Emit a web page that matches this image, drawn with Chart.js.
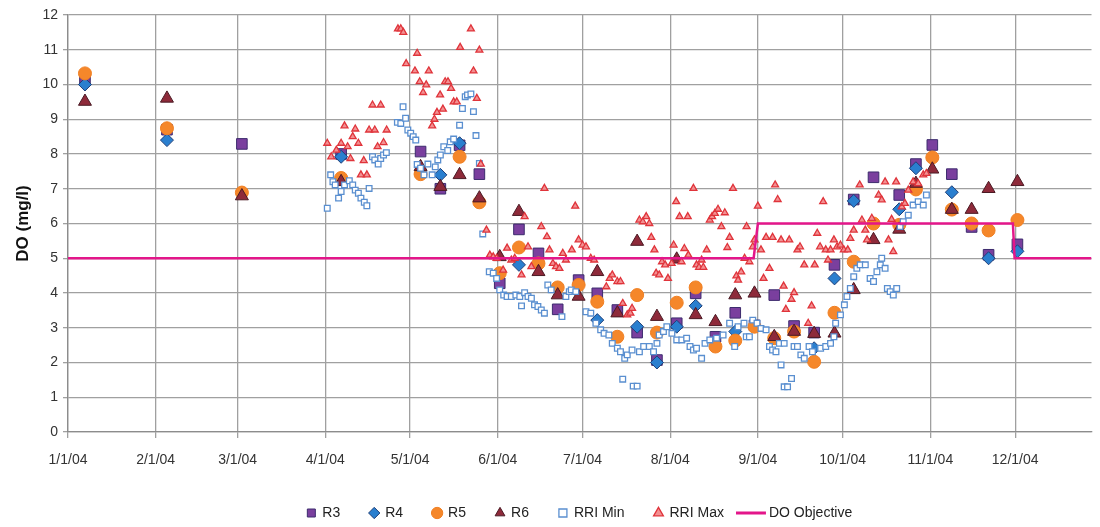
<!DOCTYPE html>
<html lang="en">
<head>
<meta charset="UTF-8" />
<title>DO (mg/l)</title>
<script src="https://cdn.jsdelivr.net/npm/chart.js"></script>
<style>
  body { margin: 0; background: #fff; }
</style>
</head>
<body>
<canvas id="chartDO" width="1100" height="527"></canvas>

<script>
// x values are days counted from 1/1/04
const monthDays = [0, 31, 60, 91, 121, 152, 182, 213, 244, 274, 305, 335];
const monthLabels = ['1/1/04', '2/1/04', '3/1/04', '4/1/04', '5/1/04', '6/1/04',
  '7/1/04', '8/1/04', '9/1/04', '10/1/04', '11/1/04', '12/1/04'];

// grab samples at the stations (null = no reading visible)
const sampleDays = [6, 35, 61.5, 96.6, 124.7, 131.7, 138.5, 145.5, 152.7, 159.5, 166.4, 173.2,
  180.6, 187.2, 194.3, 201.3, 208.3, 215.3, 222, 229, 236, 242.8, 249.8, 256.8, 263.9, 271.1,
  277.9, 284.9, 294, 299.9, 305.7, 312.6, 319.6, 325.6, 335.8];
const r3Values = [10.15, 8.7, 8.29, 8.0, 8.07, 7.0, 8.25, 7.42, 4.28, 5.83, 5.14, 3.53, 4.37, 3.99,
  3.51, 2.86, 2.07, 3.13, 3.99, 2.74, 3.43, 3.07, 3.94, 3.05, 2.86, 4.81, 6.69, 7.33, 6.82, 7.71,
  8.26, 7.42, 5.9, 5.1, 5.4];
const r4Values = [10.0, 8.4, null, 7.92, null, 7.4, 8.31, null, null, 4.81, null, null, null, 3.22,
  null, 3.03, 2.0, 3.03, 3.63, null, 2.89, null, null, null, 2.41, 4.42, 6.65, null, 6.41, 7.59,
  null, 6.9, null, 5.0, 5.2];
const r5Values = [10.32, 8.74, 6.89, 7.31, 7.42, null, 7.92, 6.61, 4.57, 5.31, 4.85, 4.16, 4.23,
  3.75, 2.74, 3.94, 2.86, 3.72, 4.16, 2.46, 2.63, 3.03, 2.7, 2.89, 2.02, 3.43, 4.9, 6.0, 5.96,
  6.98, 7.9, 6.4, 6.0, 5.8, 6.1];
const r6Values = [9.51, 9.6, 6.79, 7.2, 7.63, 7.06, 7.4, 6.73, 5.04, 6.34, 4.61, 3.94, 3.9, 4.61,
  3.42, 5.48, 3.32, 4.97, 3.37, 3.17, 3.94, 3.99, 2.74, 2.89, 2.83, 2.84, 4.09, 5.53, 5.83, 7.15,
  7.56, 6.4, 6.4, 7.0, 7.2];

// continuous recorder, daily minimum
const rriMinDays = [91.7, 92.9, 93.7, 94.5, 95.7, 96.6, 97.8, 99.5, 100.7, 101.6, 102.7, 103.6,
  104.8, 105.7, 106.5, 107.7, 108.5, 109.7, 110.6, 111.6, 112.6, 116.5, 117.7, 118.5, 119.4, 120.2,
  121.2, 122.1, 123, 123.5, 124.7, 125.9, 127.3, 128.8, 129.9, 130.8, 131.7, 132.9, 134.3, 135.2,
  136.4, 138.5, 139.5, 140.5, 141.3, 142.5, 143.4, 144.3, 145.5, 146.7, 149, 150.4, 151.6, 152.7,
  154.1, 155.3, 156.8, 158.4, 159.8, 160.4, 161.5, 162.7, 163.9, 165, 166.2, 167.4, 168.5, 169.7,
  170.9, 174.7, 176.1, 177.3, 178, 179.6, 183.2, 184.9, 186.7, 188.4, 189.6, 191.3, 192.5, 194.3,
  195.4, 196.2, 196.9, 197.8, 199.5, 199.9, 201.3, 202.1, 203.6, 205.6, 207.1, 208.3, 209.1, 210.6,
  211.8, 213.6, 215.3, 217.1, 218.8, 220, 221.2, 222.3, 224.1, 225.3, 227, 229.4, 231.7, 234, 235.8,
  237, 239.1, 239.9, 241, 242.2, 243.7, 245.1, 246.9, 248.1, 249.2, 250.4, 251.6, 252.2, 253.3,
  253.3, 254.5, 255.9, 256.8, 258, 259.2, 260.4, 262.1, 263.3, 266.2, 268, 269.7, 270.9, 271.5,
  273.2, 274.6, 275.5, 276.7, 277.9, 279, 280.2, 282, 283.7, 284.9, 286.1, 287.3, 287.8, 289, 289.8,
  290.8, 291.9, 293.1, 294.3, 295.4, 297.2, 298.9, 300.7, 302.5, 303.6];
const rriMinValues = [6.44, 7.4, 7.2, 7.11, 6.73, 6.92, 7.11, 7.23, 7.11, 6.96, 6.87, 6.73, 6.61,
  6.51, 7.01, 7.92, 7.83, 7.71, 7.87, 7.97, 8.04, 8.91, 8.88, 9.36, 9.03, 8.69, 8.6, 8.5, 8.4, 7.7,
  7.59, 7.4, 7.71, 7.4, 7.63, 7.83, 7.97, 8.21, 8.1, 8.35, 8.43, 8.83, 9.31, 9.65, 9.7, 9.73, 9.22,
  8.53, 7.73, 5.7, 4.61, 4.57, 4.42, 4.09, 3.94, 3.9, 3.9, 3.94, 3.9, 3.63, 4.01, 3.9, 3.85, 3.66,
  3.61, 3.51, 3.42, 4.23, 4.09, 3.32, 3.9, 4.04, 4.09, 4.04, 3.46, 3.42, 3.13, 2.94, 2.84, 2.79,
  2.55, 2.41, 2.31, 1.52, 2.12, 2.22, 2.36, 1.32, 1.32, 2.31, 2.46, 2.46, 2.31, 2.55, 2.79, 2.89,
  3.03, 2.84, 2.65, 2.65, 2.7, 2.46, 2.36, 2.41, 2.12, 2.55, 2.65, 2.7, 2.79, 3.13, 2.46, 3.03,
  3.13, 2.74, 2.74, 3.22, 3.13, 2.98, 2.94, 2.46, 2.36, 2.31, 2.55, 1.93, 1.3, 2.55, 1.3, 1.54,
  2.46, 2.46, 2.22, 2.12, 2.46, 2.31, 2.41, 2.46, 2.55, 2.74, 3.13, 3.37, 3.66, 3.9, 4.13, 4.47,
  4.71, 4.81, 4.81, 4.42, 4.33, 4.61, 4.81, 5.0, 4.71, 4.13, 4.04, 3.94, 4.13, 5.91, 6.05, 6.24,
  6.53, 6.63, 6.53, 6.82];

// continuous recorder, daily maximum
const rriMaxDays = [91.7, 93.1, 94.9, 96.6, 97.8, 98.9, 99.9, 100.7, 101.6, 102.7, 103.6, 104.6,
  105.7, 106.5, 107.7, 108.5, 109.5, 110.6, 111.6, 112.7, 116.7, 117.7, 118.6, 119.6, 122.7, 123.5,
  124.4, 125.6, 126.7, 127.6, 128.8, 129.6, 130.5, 131.6, 132.6, 133.4, 134.4, 135.5, 136.4, 137.5,
  138.7, 142.5, 143.4, 144.6, 145.5, 146, 148, 149.2, 150.4, 151.6, 153.9, 155.3, 156.8, 158, 160.4,
  161.5, 162.7, 163.9, 167.4, 168.5, 169.4, 170.3, 171.5, 172.6, 173.8, 175, 176.1, 178.2, 179.4,
  180.6, 182, 183.2, 184.9, 186.1, 190.4, 191.6, 192.5, 194.3, 195.4, 196.2, 197.8, 198.9, 199.5,
  202.1, 203.3, 204.5, 205.6, 206.3, 207.4, 208, 209.1, 210.1, 211.2, 212.2, 213.5, 214.2, 215.1,
  216.3, 217, 218, 219.2, 219.4, 221.2, 222.3, 223.2, 224.1, 224.7, 225.9, 227, 227.8, 228.8, 229.9,
  231.1, 232.3, 233.2, 234, 235.2, 236.4, 237, 238.1, 239.3, 240, 241, 242.2, 242.8, 244, 245.1,
  246, 246.9, 248.1, 249.2, 250.1, 251, 252.2, 253.1, 253.9, 255.1, 255.9, 256.8, 258, 258.9, 260.4,
  261.8, 263, 264.1, 265, 266, 267.1, 268, 268.8, 269.7, 270.9, 272, 273.2, 274.4, 275.8, 276.7,
  277.9, 280, 280.8, 282, 282.6, 284.3, 286.7, 287.8, 289, 290.2, 291.3, 291.9, 292.9, 294.9, 296,
  297.2, 298.9, 300.7, 302.5, 303.6];
const rriMaxValues = [8.31, 7.92, 8.11, 8.31, 8.81, 8.21, 7.87, 8.5, 8.72, 8.31, 7.4, 7.81, 7.4,
  8.69, 9.41, 8.69, 8.21, 9.41, 8.33, 8.69, 11.6, 11.6, 11.5, 10.6, 10.39, 10.9, 10.08, 9.77, 9.99,
  10.39, 8.81, 9.0, 9.2, 9.7, 9.29, 10.08, 10.08, 9.89, 9.5, 9.5, 11.07, 11.6, 10.39, 9.6, 10.99,
  7.71, 5.81, 5.09, 5.04, 5.0, 4.66, 5.29, 4.95, 5.0, 4.52, 6.2, 5.33, 4.76, 5.91, 7.01, 5.62, 5.24,
  4.85, 4.76, 4.71, 5.14, 4.95, 5.24, 6.5, 5.53, 5.38, 5.33, 5.0, 4.95, 4.18, 4.42, 4.52, 4.33, 4.33,
  3.7, 3.37, 3.42, 3.56, 6.1, 6.05, 6.2, 6.0, 5.6, 5.24, 4.57, 4.52, 4.9, 4.81, 4.42, 4.85, 5.38,
  6.63, 6.2, 4.9, 5.28, 6.2, 5.09, 7.01, 4.81, 4.74, 4.95, 4.74, 5.24, 6.1, 6.2, 6.29, 6.41, 5.91,
  6.31, 5.31, 5.6, 7.01, 4.49, 4.37, 4.61, 5.0, 5.91, 4.9, 5.33, 5.53, 6.5, 5.24, 4.42, 5.6, 4.71,
  5.6, 7.11, 6.69, 5.53, 4.2, 3.53, 5.53, 3.82, 4.01, 5.24, 5.33, 4.81, 3.13, 3.63, 4.81, 5.72, 5.33,
  6.63, 5.24, 4.95, 5.24, 5.53, 5.33, 5.38, 5.24, 5.24, 5.57, 5.81, 7.11, 6.1, 5.81, 5.53, 6.15, 6.82,
  6.68, 7.2, 5.53, 6.12, 5.19, 7.2, 6.48, 6.58, 6.96, 7.2, 7.15, 7.4, 7.44];

// DO objective steps (5 mg/l, 6 mg/l in Sep-Nov)
const objectiveDays = [0, 242.5, 244, 334.2, 334.8, 362];
const objectiveValues = [5, 5, 6, 6, 5, 5];

const colorObjetivo = '#e3168a';

function puntos(xs, ys) {
  const out = [];
  xs.forEach((x, i) => {
    if (ys[i] !== null) out.push({ x: x, y: ys[i] });
  });
  return out;
}

// legend swatch for the objective line: a longer stroke that sits left of the label
const lineaLeyenda = document.createElement('canvas');
lineaLeyenda.width = 44;
lineaLeyenda.height = 4;
(function () {
  const c = lineaLeyenda.getContext('2d');
  c.fillStyle = colorObjetivo;
  c.fillRect(0, 0.5, 30, 3);
})();

const ctx = document.getElementById('chartDO').getContext('2d');

new Chart(ctx, {
  type: 'scatter',
  data: {
    datasets: [
      {
        label: 'R3',
        data: puntos(sampleDays, r3Values),
        pointStyle: 'rect',
        pointRadius: 7.5,
        backgroundColor: '#7a3f9e',
        borderColor: '#3d2c6e',
        borderWidth: 1,
        order: 6
      },
      {
        label: 'R4',
        data: puntos(sampleDays, r4Values),
        pointStyle: 'rectRot',
        pointRadius: 6.5,
        backgroundColor: '#2a7fcf',
        borderColor: '#1f3f78',
        borderWidth: 1,
        order: 5
      },
      {
        label: 'R5',
        data: puntos(sampleDays, r5Values),
        pointStyle: 'circle',
        pointRadius: 6.5,
        backgroundColor: '#f5872a',
        borderColor: '#f07f22',
        borderWidth: 1,
        order: 4
      },
      {
        label: 'R6',
        data: puntos(sampleDays, r6Values),
        pointStyle: 'triangle',
        pointRadius: 7.5,
        backgroundColor: '#8e2a3a',
        borderColor: '#4a1a24',
        borderWidth: 1,
        order: 3
      },
      {
        label: 'RRI Min',
        data: puntos(rriMinDays, rriMinValues),
        pointStyle: 'rect',
        pointRadius: 4,
        backgroundColor: '#ffffff',
        borderColor: '#5a8fd0',
        borderWidth: 1.3,
        order: 2
      },
      {
        label: 'RRI Max',
        data: puntos(rriMaxDays, rriMaxValues),
        pointStyle: 'triangle',
        pointRadius: 4,
        backgroundColor: '#f29092',
        borderColor: '#e0343b',
        borderWidth: 1.3,
        order: 1
      },
      {
        label: 'DO Objective',
        data: puntos(objectiveDays, objectiveValues),
        showLine: true,
        pointRadius: 0,
        pointStyle: lineaLeyenda,
        borderColor: colorObjetivo,
        backgroundColor: colorObjetivo,
        borderWidth: 2.5,
        order: 0
      }
    ]
  },
  options: {
    responsive: false,
    animation: false,
    layout: { padding: { top: 15, left: 4, right: 0, bottom: -3 } },
    plugins: {
      tooltip: { enabled: false },
      legend: {
        position: 'bottom',
        fullSize: false,
        labels: {
          usePointStyle: true,
          boxWidth: 8,
          boxHeight: 8,
          padding: 30,
          color: '#222',
          font: { family: 'Liberation Sans, Arial, sans-serif', size: 14 },
          sort: (a, b) => a.datasetIndex - b.datasetIndex
        }
      }
    },
    scales: {
      x: {
        type: 'linear',
        min: 0,
        max: 362,
        afterBuildTicks: (scale) => {
          scale.ticks = monthDays.map(v => ({ value: v }));
        },
        afterFit: (scale) => { scale.height = 44; },
        ticks: {
          autoSkip: false,
          maxRotation: 0,
          padding: 14,
          color: '#333',
          font: { family: 'Liberation Sans, Arial, sans-serif', size: 14 },
          callback: (v, i) => monthLabels[i]
        },
        grid: { color: '#a0a0a0', lineWidth: 1.3, tickLength: 6 },
        border: { color: '#8c8c8c', width: 1.3 }
      },
      y: {
        min: 0,
        max: 12,
        afterFit: (scale) => { scale.width = 64; },
        ticks: {
          stepSize: 1,
          padding: 5,
          color: '#333',
          font: { family: 'Liberation Sans, Arial, sans-serif', size: 14 }
        },
        grid: { color: '#a0a0a0', lineWidth: 1.3, tickLength: 5 },
        border: { color: '#8c8c8c', width: 1.3 },
        title: {
          display: true,
          text: 'DO (mg/l)',
          color: '#111',
          padding: { top: 9, bottom: 0 },
          font: { family: 'Liberation Sans, Arial, sans-serif', size: 17, weight: 'bold' }
        }
      }
    }
  }
});
</script>
</body>
</html>
